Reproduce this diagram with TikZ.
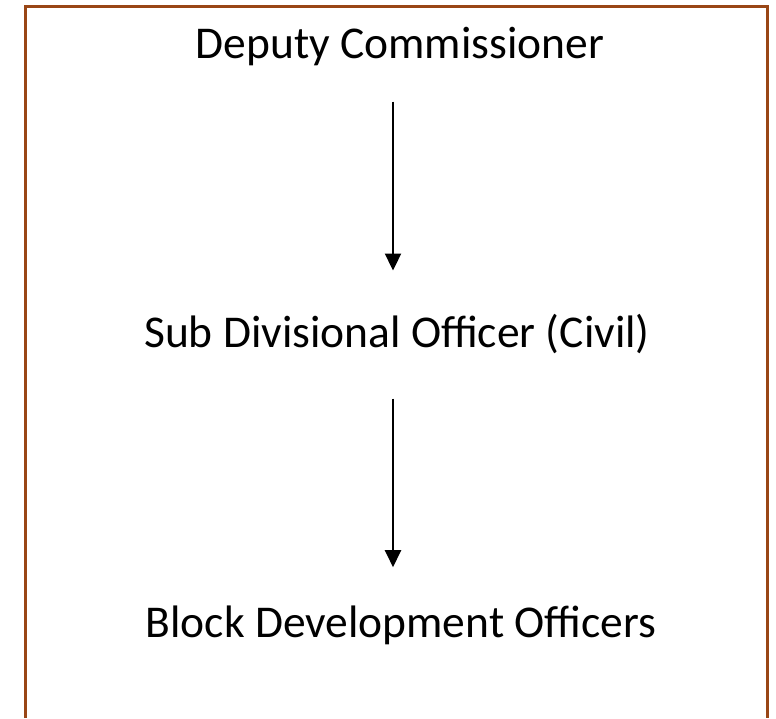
\documentclass[tikz,border=0pt]{standalone}
\usepackage{fontspec}
\setmainfont{Carlito}
\usepackage{tikz}
\usetikzlibrary{arrows.meta}
\definecolor{framebrown}{RGB}{153,70,22}

\begin{document}
\begin{tikzpicture}
    [every node/.style={inner sep=0pt}]
        \useasboundingbox (0pt, 0pt) rectangle (776pt, -718pt);
        \draw [line width=3pt, color=framebrown] (25.5pt, -718pt) -- (25.5pt, -6pt) -- (767.5pt, -6pt) -- (767.5pt, -718pt);
        \node (1) [anchor=base, font=\fontsize{45.5}{54}\selectfont] at (400pt, -58pt) {\textcolor{black}{Deputy Commissioner}};
        \node (2) [anchor=base, font=\fontsize{45.5}{54}\selectfont] at (397pt, -347pt) {\textcolor{black}{Sub Divisional Officer (Civil)}};
        \node (3) [anchor=base, font=\fontsize{45.5}{54}\selectfont] at (401pt, -637pt) {\textcolor{black}{Block Development Officers}};
        \draw [line width=2.2pt, -{Triangle[length=17pt, width=16pt]}, color=black, shorten <=36pt, shorten >=43pt] ([xshift=-7pt]1.south) to  ([xshift=-7pt]1.south |- 2.north);
        \draw [line width=2.2pt, -{Triangle[length=17pt, width=16pt]}, color=black, shorten <=45pt, shorten >=38pt] ([xshift=-4pt]2.south) to  ([xshift=-4pt]2.south |- 3.north);
    \end{tikzpicture}
\end{document}
